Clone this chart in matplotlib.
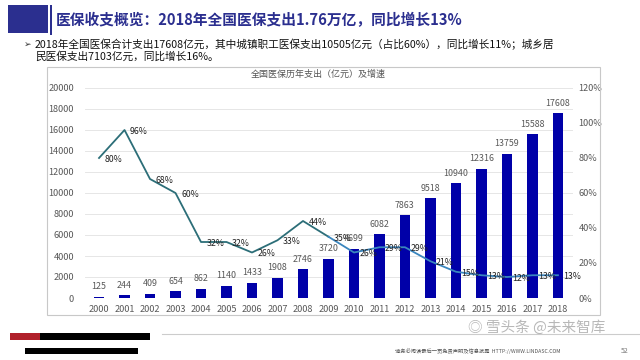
import matplotlib
matplotlib.use("Agg")
import matplotlib.pyplot as plt
from matplotlib.patches import Rectangle
from matplotlib.ticker import FuncFormatter

plt.rcParams['font.family'] = ['Noto Sans CJK SC', 'DejaVu Sans']

years = ["2000", "2001", "2002", "2003", "2004", "2005", "2006", "2007", "2008", "2009",
         "2010", "2011", "2012", "2013", "2014", "2015", "2016", "2017", "2018"]
spend = [125, 244, 409, 654, 862, 1140, 1433, 1908, 2746, 3720,
         4699, 6082, 7863, 9518, 10940, 12316, 13759, 15588, 17608]
growth = [80, 96, 68, 60, 32, 32, 26, 33, 44, 35,
          26, 29, 29, 21, 15, 13, 12, 13, 13]

W, H = 640, 360
fig = plt.figure(figsize=(6.4, 3.6), dpi=100)
fig.patch.set_facecolor("white")

def fx(x):
    return x / W

def fy(y):
    return 1 - y / H

# header block
fig.patches.append(Rectangle((fx(8), fy(33)), fx(40), 28 / H, transform=fig.transFigure,
                             facecolor="#2B2F8F", edgecolor="none"))
fig.patches.append(Rectangle((fx(50), fy(35)), fx(2), 30 / H, transform=fig.transFigure,
                             facecolor="#2B2F8F", edgecolor="none"))
fig.text(fx(56), fy(20), "医保收支概览：2018年全国医保支出1.76万亿，同比增长13%",
         fontsize=10.6, color="#2B2F8F", va="center", ha="left", fontweight="bold")

fig.text(fx(24), fy(44), "➢", fontsize=6.5, color="#333333", va="center", ha="left",
         family=['DejaVu Sans'])
fig.text(fx(35), fy(44),
         "2018年全国医保合计支出17608亿元，其中城镇职工医保支出10505亿元（占比60%），同比增长11%；城乡居",
         fontsize=7.7, color="#111111", va="center", ha="left")
fig.text(fx(35), fy(57), "民医保支出7103亿元，同比增长16%。",
         fontsize=7.7, color="#111111", va="center", ha="left")

# chart frame
fig.patches.append(Rectangle((fx(47), fy(315)), fx(553), 248 / H, transform=fig.transFigure,
                             facecolor="none", edgecolor="#c8c8c8", linewidth=0.8))
fig.text(fx(318), fy(74), "全国医保历年支出（亿元）及增速", fontsize=6.5, color="#555555",
         va="center", ha="center")

ax = fig.add_axes([fx(85), fy(298), (573 - 85) / W, (298 - 88) / H])
ax.set_facecolor("none")
x = list(range(len(years)))
bars = ax.bar(x, spend, width=0.42, color="#0000A8", zorder=3)
ax.set_xlim(-0.55, 18.59)
ax.set_ylim(0, 20000)
ax.set_yticks(range(0, 20001, 2000))
ax.set_xticks(x)
ax.set_xticklabels(years)
ax.grid(axis="y", color="#e6e6e6", linewidth=0.7, zorder=0)
for s in ax.spines.values():
    s.set_visible(False)
ax.tick_params(axis="both", length=0, labelsize=6.6, labelcolor="#595959")
ax.tick_params(axis="y", pad=8)
ax.tick_params(axis="x", pad=5)
for xi, v in zip(x, spend):
    ax.annotate(str(v), (xi, v), xytext=(0, 4), textcoords="offset points",
                ha="center", va="bottom", fontsize=6.4, color="#595959", zorder=5)

ax2 = ax.twinx()
ax2.set_ylim(0, 120)
ax2.set_yticks(range(0, 121, 20))
ax2.yaxis.set_major_formatter(FuncFormatter(lambda v, p: f"{int(v)}%"))
for s in ax2.spines.values():
    s.set_visible(False)
ax2.tick_params(axis="y", length=0, labelsize=6.6, labelcolor="#595959", pad=4)
ax2.plot(x[:10], growth[:10], color="#2C6E78", linewidth=1.3, zorder=4)
ax2.plot(x[9:], growth[9:], color="#3A86BE", linewidth=1.3, zorder=4)
for xi, g in zip(x, growth):
    ax2.annotate(f"{g}%", (xi, g), xytext=(4, -1), textcoords="offset points",
                 ha="left", va="center", fontsize=6.3, color="#222222", zorder=6)

# footer
fig.patches.append(Rectangle((fx(10), fy(340)), fx(140), 7 / H, transform=fig.transFigure,
                             facecolor="black", edgecolor="none"))
fig.patches.append(Rectangle((fx(10), fy(340)), fx(30), 7 / H, transform=fig.transFigure,
                             facecolor="#b0202a", edgecolor="none"))
fig.patches.append(Rectangle((fx(25), fy(354)), fx(113), 6 / H, transform=fig.transFigure,
                             facecolor="black", edgecolor="none"))
fig.lines.append(plt.Line2D([fx(162), fx(640)], [fy(334), fy(334)], transform=fig.transFigure,
                            color="#cccccc", linewidth=0.8))
fig.text(fx(468), fy(328), "◎ 雪头条 @未来智库", fontsize=10.5, color="#b8b8b8",
         va="center", ha="left")
fig.text(fx(395), fy(351), "请务必阅读最后一页免责声明及信息披露  HTTP://WWW.LINDASC.COM",
         fontsize=3.8, color="#555555", va="center", ha="left")
fig.text(fx(625), fy(351), "52", fontsize=5, color="#777777", va="center", ha="center")

fig.savefig("out.png", dpi=100)
